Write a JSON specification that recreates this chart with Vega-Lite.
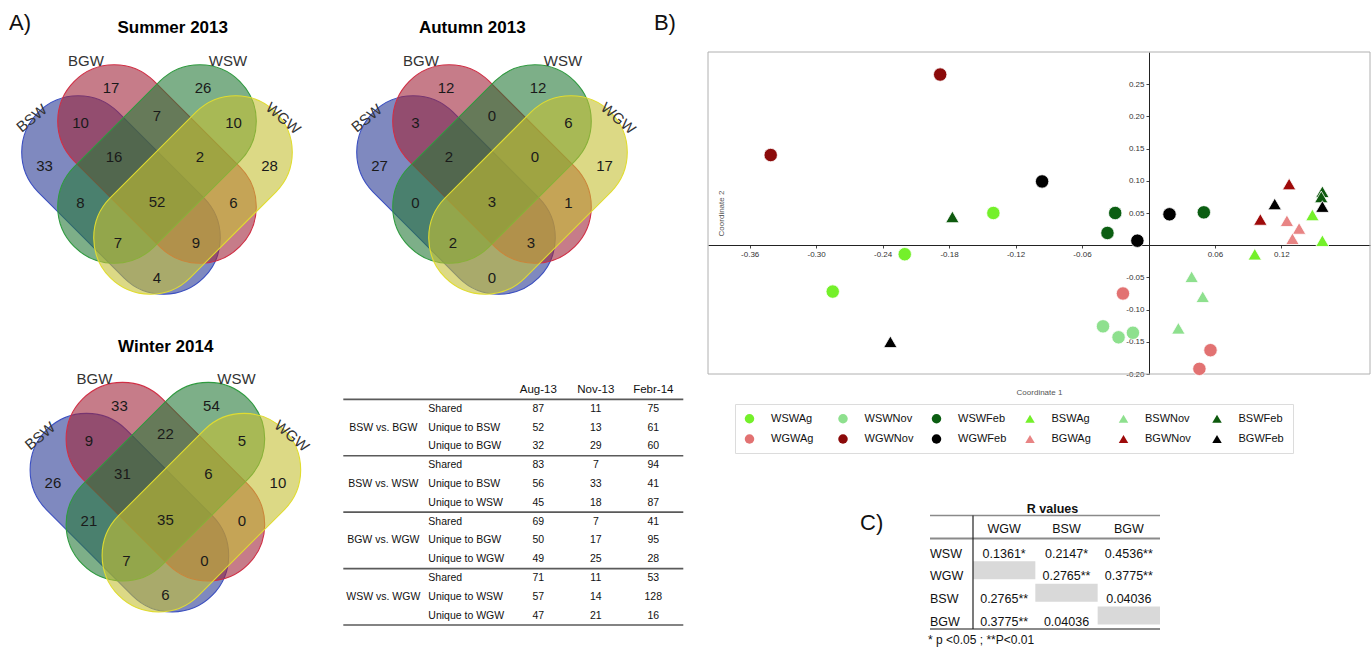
{
"$schema": "https://vega.github.io/schema/vega-lite/v6.json",
"width": 1371, "height": 647, "autosize": "none", "padding": 0, "background": "white",
"config": {"view": {"stroke": null}, "text": {"font": "Liberation Sans", "fontSize": 15, "fill": "#1a1a1a"}},
"datasets": {
 "venn": [
  {"panel":"Summer 2013","BSW only":33,"BGW only":17,"WSW only":26,"WGW only":28,"BSW+BGW":10,"BGW+WSW":7,"WSW+WGW":10,"BSW+BGW+WSW":16,"BGW+WSW+WGW":2,"BSW+WSW":8,"All four":52,"BGW+WGW":6,"BSW+WSW+WGW":7,"BSW+BGW+WGW":9,"BSW+WGW":4},
  {"panel":"Autumn 2013","BSW only":27,"BGW only":12,"WSW only":12,"WGW only":17,"BSW+BGW":3,"BGW+WSW":0,"WSW+WGW":6,"BSW+BGW+WSW":2,"BGW+WSW+WGW":0,"BSW+WSW":0,"All four":3,"BGW+WGW":1,"BSW+WSW+WGW":2,"BSW+BGW+WGW":3,"BSW+WGW":0},
  {"panel":"Winter 2014","BSW only":26,"BGW only":33,"WSW only":54,"WGW only":10,"BSW+BGW":9,"BGW+WSW":22,"WSW+WGW":5,"BSW+BGW+WSW":31,"BGW+WSW+WGW":6,"BSW+WSW":21,"All four":35,"BGW+WGW":0,"BSW+WSW+WGW":7,"BSW+BGW+WGW":0,"BSW+WGW":6}
 ],
 "sets": [{"set":"BSW"},{"set":"BGW"},{"set":"WSW"},{"set":"WGW"}],
 "overlap": [
  {"comparison":"BSW vs. BGW","subset":"Shared","label":"Shared","Aug-13":87,"Nov-13":11,"Febr-14":75},
  {"comparison":"BSW vs. BGW","subset":"Unique to 1st","label":"Unique to BSW","Aug-13":52,"Nov-13":13,"Febr-14":61},
  {"comparison":"BSW vs. BGW","subset":"Unique to 2nd","label":"Unique to BGW","Aug-13":32,"Nov-13":29,"Febr-14":60},
  {"comparison":"BSW vs. WSW","subset":"Shared","label":"Shared","Aug-13":83,"Nov-13":7,"Febr-14":94},
  {"comparison":"BSW vs. WSW","subset":"Unique to 1st","label":"Unique to BSW","Aug-13":56,"Nov-13":33,"Febr-14":41},
  {"comparison":"BSW vs. WSW","subset":"Unique to 2nd","label":"Unique to WSW","Aug-13":45,"Nov-13":18,"Febr-14":87},
  {"comparison":"BGW vs. WGW","subset":"Shared","label":"Shared","Aug-13":69,"Nov-13":7,"Febr-14":41},
  {"comparison":"BGW vs. WGW","subset":"Unique to 1st","label":"Unique to BGW","Aug-13":50,"Nov-13":17,"Febr-14":95},
  {"comparison":"BGW vs. WGW","subset":"Unique to 2nd","label":"Unique to WGW","Aug-13":49,"Nov-13":25,"Febr-14":28},
  {"comparison":"WSW vs. WGW","subset":"Shared","label":"Shared","Aug-13":71,"Nov-13":11,"Febr-14":53},
  {"comparison":"WSW vs. WGW","subset":"Unique to 1st","label":"Unique to WSW","Aug-13":57,"Nov-13":14,"Febr-14":128},
  {"comparison":"WSW vs. WGW","subset":"Unique to 2nd","label":"Unique to WGW","Aug-13":47,"Nov-13":21,"Febr-14":16}
 ],
 "scatter": [
  {"series":"WGWNov","coord1":-0.188,"coord2":0.265},
  {"series":"WGWNov","coord1":-0.341,"coord2":0.140},
  {"series":"WGWFeb","coord1":-0.096,"coord2":0.099},
  {"series":"WGWFeb","coord1":-0.010,"coord2":0.007},
  {"series":"WGWFeb","coord1":0.019,"coord2":0.048},
  {"series":"BSWFeb","coord1":-0.177,"coord2":0.044},
  {"series":"BSWFeb","coord1":0.157,"coord2":0.083},
  {"series":"BSWFeb","coord1":0.156,"coord2":0.075},
  {"series":"WSWAg","coord1":-0.140,"coord2":0.050},
  {"series":"WSWAg","coord1":-0.220,"coord2":-0.014},
  {"series":"WSWAg","coord1":-0.285,"coord2":-0.072},
  {"series":"BGWFeb","coord1":-0.233,"coord2":-0.150},
  {"series":"BGWFeb","coord1":0.114,"coord2":0.064},
  {"series":"BGWFeb","coord1":0.157,"coord2":0.060},
  {"series":"WSWFeb","coord1":-0.030,"coord2":0.050},
  {"series":"WSWFeb","coord1":-0.037,"coord2":0.019},
  {"series":"WSWFeb","coord1":0.050,"coord2":0.051},
  {"series":"BGWNov","coord1":0.127,"coord2":0.095},
  {"series":"BGWNov","coord1":0.101,"coord2":0.040},
  {"series":"BGWAg","coord1":0.125,"coord2":0.038},
  {"series":"BGWAg","coord1":0.136,"coord2":0.026},
  {"series":"BGWAg","coord1":0.130,"coord2":0.010},
  {"series":"BSWAg","coord1":0.148,"coord2":0.047},
  {"series":"BSWAg","coord1":0.157,"coord2":0.007},
  {"series":"BSWAg","coord1":0.096,"coord2":-0.014},
  {"series":"BSWNov","coord1":0.039,"coord2":-0.049},
  {"series":"BSWNov","coord1":0.049,"coord2":-0.080},
  {"series":"BSWNov","coord1":0.027,"coord2":-0.129},
  {"series":"WGWAg","coord1":-0.023,"coord2":-0.075},
  {"series":"WGWAg","coord1":0.056,"coord2":-0.163},
  {"series":"WGWAg","coord1":0.046,"coord2":-0.192},
  {"series":"WSWNov","coord1":-0.041,"coord2":-0.126},
  {"series":"WSWNov","coord1":-0.027,"coord2":-0.143},
  {"series":"WSWNov","coord1":-0.014,"coord2":-0.136}
 ],
 "rvalues": [
  {"row":"WSW","col":"WGW","R":"0.1361*"},{"row":"WSW","col":"BSW","R":"0.2147*"},{"row":"WSW","col":"BGW","R":"0.4536**"},
  {"row":"WGW","col":"WGW","R":null},{"row":"WGW","col":"BSW","R":"0.2765**"},{"row":"WGW","col":"BGW","R":"0.3775**"},
  {"row":"BSW","col":"WGW","R":"0.2765**"},{"row":"BSW","col":"BSW","R":null},{"row":"BSW","col":"BGW","R":"0.04036"},
  {"row":"BGW","col":"WGW","R":"0.3775**"},{"row":"BGW","col":"BSW","R":"0.04036"},{"row":"BGW","col":"BGW","R":null}
 ]
},
"resolve": {"scale": {"x": "independent", "y": "independent", "color": "independent", "shape": "independent", "fill": "independent", "stroke": "independent"}},
"layer": [
 {
  "data": {"name": "venn"},
  "transform": [{"filter": "datum.panel === 'Summer 2013'"}],
  "layer": [
   {"data": {"name": "sets"}, "mark": {"type": "point", "filled": true, "size": 4, "opacity": 1, "fillOpacity": 0.6, "strokeWidth": 1.1},
    "encoding": {
     "x": {"datum": 0, "type": "quantitative", "scale": {"domain": [-1, 1], "range": [57, 257], "nice": false, "zero": false}, "axis": null},
     "y": {"datum": 0, "type": "quantitative", "scale": {"domain": [-1, 1], "range": [64, 264], "nice": false, "zero": false}, "axis": null},
     "shape": {"field": "set", "type": "nominal", "scale": {"domain": ["BSW","BGW","WSW","WGW"], "range": ["M -39.18 -52.08 L 47.08 34.18 A 56.5 56.5 0 0 1 -32.82 114.08 L -119.08 27.82 A 56.5 56.5 0 0 1 -39.18 -52.08 Z","M -3.18 -83.08 L 83.08 3.18 A 56.5 56.5 0 0 1 3.18 83.08 L -83.08 -3.18 A 56.5 56.5 0 0 1 -3.18 -83.08 Z","M 3.18 -83.08 L -83.08 3.18 A 56.5 56.5 0 0 0 -3.18 83.08 L 83.08 -3.18 A 56.5 56.5 0 0 0 3.18 -83.08 Z","M 39.18 -52.08 L -47.08 34.18 A 56.5 56.5 0 0 0 32.82 114.08 L 119.08 27.82 A 56.5 56.5 0 0 0 39.18 -52.08 Z"]}, "legend": null},
     "fill": {"field": "set", "type": "nominal", "scale": {"domain": ["BSW","BGW","WSW","WGW"], "range": ["#2a3a95","#a0243a","#267a38","#c4c034"]}, "legend": null},
     "stroke": {"field": "set", "type": "nominal", "scale": {"domain": ["BSW","BGW","WSW","WGW"], "range": ["#3b4fc0","#d02f45","#2f9a3f","#e0dc30"]}, "legend": null}
    }},
   {"data": {"values": [{}]}, "mark": {"type": "text", "text": "A)", "fontSize": 22, "fill": "#111"}, "encoding": {"x": {"datum": -1.37, "axis": null}, "y": {"datum": -1.407, "axis": null}}},
   {"mark": {"type": "text", "fontSize": 17, "fontWeight": "bold", "fill": "#000"}, "encoding": {"x": {"datum": 0.157, "axis": null}, "y": {"datum": -1.357, "axis": null}, "text": {"field": "panel"}}},
   {"data": {"name": "sets"}, "transform": [{"filter": "datum.set === 'BSW'"}], "mark": {"type": "text", "angle": -40, "fill": "#333"}, "encoding": {"x": {"datum": -1.253, "axis": null}, "y": {"datum": -0.457, "axis": null}, "text": {"field": "set"}}},
   {"data": {"name": "sets"}, "transform": [{"filter": "datum.set === 'BGW'"}], "mark": {"type": "text", "fill": "#333"}, "encoding": {"x": {"datum": -0.71, "axis": null}, "y": {"datum": -1.03, "axis": null}, "text": {"field": "set"}}},
   {"data": {"name": "sets"}, "transform": [{"filter": "datum.set === 'WSW'"}], "mark": {"type": "text", "fill": "#333"}, "encoding": {"x": {"datum": 0.71, "axis": null}, "y": {"datum": -1.03, "axis": null}, "text": {"field": "set"}}},
   {"data": {"name": "sets"}, "transform": [{"filter": "datum.set === 'WGW'"}], "mark": {"type": "text", "angle": 40, "fill": "#333"}, "encoding": {"x": {"datum": 1.263, "axis": null}, "y": {"datum": -0.457, "axis": null}, "text": {"field": "set"}}},
   {"mark": "text", "encoding": {"x": {"datum": -1.125, "axis": null}, "y": {"datum": 0.015, "axis": null}, "text": {"field": "BSW only"}}},
   {"mark": "text", "encoding": {"x": {"datum": -0.46, "axis": null}, "y": {"datum": -0.76, "axis": null}, "text": {"field": "BGW only"}}},
   {"mark": "text", "encoding": {"x": {"datum": 0.46, "axis": null}, "y": {"datum": -0.76, "axis": null}, "text": {"field": "WSW only"}}},
   {"mark": "text", "encoding": {"x": {"datum": 1.125, "axis": null}, "y": {"datum": 0.015, "axis": null}, "text": {"field": "WGW only"}}},
   {"mark": "text", "encoding": {"x": {"datum": -0.765, "axis": null}, "y": {"datum": -0.41, "axis": null}, "text": {"field": "BSW+BGW"}}},
   {"mark": "text", "encoding": {"x": {"datum": 0, "axis": null}, "y": {"datum": -0.48, "axis": null}, "text": {"field": "BGW+WSW"}}},
   {"mark": "text", "encoding": {"x": {"datum": 0.765, "axis": null}, "y": {"datum": -0.41, "axis": null}, "text": {"field": "WSW+WGW"}}},
   {"mark": "text", "encoding": {"x": {"datum": -0.43, "axis": null}, "y": {"datum": -0.075, "axis": null}, "text": {"field": "BSW+BGW+WSW"}}},
   {"mark": "text", "encoding": {"x": {"datum": 0.43, "axis": null}, "y": {"datum": -0.075, "axis": null}, "text": {"field": "BGW+WSW+WGW"}}},
   {"mark": "text", "encoding": {"x": {"datum": -0.765, "axis": null}, "y": {"datum": 0.39, "axis": null}, "text": {"field": "BSW+WSW"}}},
   {"mark": "text", "encoding": {"x": {"datum": 0, "axis": null}, "y": {"datum": 0.38, "axis": null}, "text": {"field": "All four"}}},
   {"mark": "text", "encoding": {"x": {"datum": 0.765, "axis": null}, "y": {"datum": 0.39, "axis": null}, "text": {"field": "BGW+WGW"}}},
   {"mark": "text", "encoding": {"x": {"datum": -0.39, "axis": null}, "y": {"datum": 0.79, "axis": null}, "text": {"field": "BSW+WSW+WGW"}}},
   {"mark": "text", "encoding": {"x": {"datum": 0.39, "axis": null}, "y": {"datum": 0.79, "axis": null}, "text": {"field": "BSW+BGW+WGW"}}},
   {"mark": "text", "encoding": {"x": {"datum": 0, "axis": null}, "y": {"datum": 1.135, "axis": null}, "text": {"field": "BSW+WGW"}}}
  ]
 },
 {
  "data": {"name": "venn"},
  "transform": [{"filter": "datum.panel === 'Autumn 2013'"}],
  "layer": [
   {"data": {"name": "sets"}, "mark": {"type": "point", "filled": true, "size": 4, "opacity": 1, "fillOpacity": 0.6, "strokeWidth": 1.1},
    "encoding": {
     "x": {"datum": 0, "type": "quantitative", "scale": {"domain": [-1, 1], "range": [392, 592], "nice": false, "zero": false}, "axis": null},
     "y": {"datum": 0, "type": "quantitative", "scale": {"domain": [-1, 1], "range": [64, 264], "nice": false, "zero": false}, "axis": null},
     "shape": {"field": "set", "type": "nominal", "scale": {"domain": ["BSW","BGW","WSW","WGW"], "range": ["M -39.18 -52.08 L 47.08 34.18 A 56.5 56.5 0 0 1 -32.82 114.08 L -119.08 27.82 A 56.5 56.5 0 0 1 -39.18 -52.08 Z","M -3.18 -83.08 L 83.08 3.18 A 56.5 56.5 0 0 1 3.18 83.08 L -83.08 -3.18 A 56.5 56.5 0 0 1 -3.18 -83.08 Z","M 3.18 -83.08 L -83.08 3.18 A 56.5 56.5 0 0 0 -3.18 83.08 L 83.08 -3.18 A 56.5 56.5 0 0 0 3.18 -83.08 Z","M 39.18 -52.08 L -47.08 34.18 A 56.5 56.5 0 0 0 32.82 114.08 L 119.08 27.82 A 56.5 56.5 0 0 0 39.18 -52.08 Z"]}, "legend": null},
     "fill": {"field": "set", "type": "nominal", "scale": {"domain": ["BSW","BGW","WSW","WGW"], "range": ["#2a3a95","#a0243a","#267a38","#c4c034"]}, "legend": null},
     "stroke": {"field": "set", "type": "nominal", "scale": {"domain": ["BSW","BGW","WSW","WGW"], "range": ["#3b4fc0","#d02f45","#2f9a3f","#e0dc30"]}, "legend": null}
    }},
   {"mark": {"type": "text", "fontSize": 17, "fontWeight": "bold", "fill": "#000"}, "encoding": {"x": {"datum": -0.197, "axis": null}, "y": {"datum": -1.357, "axis": null}, "text": {"field": "panel"}}},
   {"data": {"name": "sets"}, "transform": [{"filter": "datum.set === 'BSW'"}], "mark": {"type": "text", "angle": -40, "fill": "#333"}, "encoding": {"x": {"datum": -1.253, "axis": null}, "y": {"datum": -0.457, "axis": null}, "text": {"field": "set"}}},
   {"data": {"name": "sets"}, "transform": [{"filter": "datum.set === 'BGW'"}], "mark": {"type": "text", "fill": "#333"}, "encoding": {"x": {"datum": -0.71, "axis": null}, "y": {"datum": -1.03, "axis": null}, "text": {"field": "set"}}},
   {"data": {"name": "sets"}, "transform": [{"filter": "datum.set === 'WSW'"}], "mark": {"type": "text", "fill": "#333"}, "encoding": {"x": {"datum": 0.71, "axis": null}, "y": {"datum": -1.03, "axis": null}, "text": {"field": "set"}}},
   {"data": {"name": "sets"}, "transform": [{"filter": "datum.set === 'WGW'"}], "mark": {"type": "text", "angle": 40, "fill": "#333"}, "encoding": {"x": {"datum": 1.263, "axis": null}, "y": {"datum": -0.457, "axis": null}, "text": {"field": "set"}}},
   {"mark": "text", "encoding": {"x": {"datum": -1.125, "axis": null}, "y": {"datum": 0.015, "axis": null}, "text": {"field": "BSW only"}}},
   {"mark": "text", "encoding": {"x": {"datum": -0.46, "axis": null}, "y": {"datum": -0.76, "axis": null}, "text": {"field": "BGW only"}}},
   {"mark": "text", "encoding": {"x": {"datum": 0.46, "axis": null}, "y": {"datum": -0.76, "axis": null}, "text": {"field": "WSW only"}}},
   {"mark": "text", "encoding": {"x": {"datum": 1.125, "axis": null}, "y": {"datum": 0.015, "axis": null}, "text": {"field": "WGW only"}}},
   {"mark": "text", "encoding": {"x": {"datum": -0.765, "axis": null}, "y": {"datum": -0.41, "axis": null}, "text": {"field": "BSW+BGW"}}},
   {"mark": "text", "encoding": {"x": {"datum": 0, "axis": null}, "y": {"datum": -0.48, "axis": null}, "text": {"field": "BGW+WSW"}}},
   {"mark": "text", "encoding": {"x": {"datum": 0.765, "axis": null}, "y": {"datum": -0.41, "axis": null}, "text": {"field": "WSW+WGW"}}},
   {"mark": "text", "encoding": {"x": {"datum": -0.43, "axis": null}, "y": {"datum": -0.075, "axis": null}, "text": {"field": "BSW+BGW+WSW"}}},
   {"mark": "text", "encoding": {"x": {"datum": 0.43, "axis": null}, "y": {"datum": -0.075, "axis": null}, "text": {"field": "BGW+WSW+WGW"}}},
   {"mark": "text", "encoding": {"x": {"datum": -0.765, "axis": null}, "y": {"datum": 0.39, "axis": null}, "text": {"field": "BSW+WSW"}}},
   {"mark": "text", "encoding": {"x": {"datum": 0, "axis": null}, "y": {"datum": 0.38, "axis": null}, "text": {"field": "All four"}}},
   {"mark": "text", "encoding": {"x": {"datum": 0.765, "axis": null}, "y": {"datum": 0.39, "axis": null}, "text": {"field": "BGW+WGW"}}},
   {"mark": "text", "encoding": {"x": {"datum": -0.39, "axis": null}, "y": {"datum": 0.79, "axis": null}, "text": {"field": "BSW+WSW+WGW"}}},
   {"mark": "text", "encoding": {"x": {"datum": 0.39, "axis": null}, "y": {"datum": 0.79, "axis": null}, "text": {"field": "BSW+BGW+WGW"}}},
   {"mark": "text", "encoding": {"x": {"datum": 0, "axis": null}, "y": {"datum": 1.135, "axis": null}, "text": {"field": "BSW+WGW"}}}
  ]
 },
 {
  "data": {"name": "venn"},
  "transform": [{"filter": "datum.panel === 'Winter 2014'"}],
  "layer": [
   {"data": {"name": "sets"}, "mark": {"type": "point", "filled": true, "size": 4, "opacity": 1, "fillOpacity": 0.6, "strokeWidth": 1.1},
    "encoding": {
     "x": {"datum": 0, "type": "quantitative", "scale": {"domain": [-1, 1], "range": [65.4, 265.4], "nice": false, "zero": false}, "axis": null},
     "y": {"datum": 0, "type": "quantitative", "scale": {"domain": [-1, 1], "range": [381.7, 581.7], "nice": false, "zero": false}, "axis": null},
     "shape": {"field": "set", "type": "nominal", "scale": {"domain": ["BSW","BGW","WSW","WGW"], "range": ["M -39.18 -52.08 L 47.08 34.18 A 56.5 56.5 0 0 1 -32.82 114.08 L -119.08 27.82 A 56.5 56.5 0 0 1 -39.18 -52.08 Z","M -3.18 -83.08 L 83.08 3.18 A 56.5 56.5 0 0 1 3.18 83.08 L -83.08 -3.18 A 56.5 56.5 0 0 1 -3.18 -83.08 Z","M 3.18 -83.08 L -83.08 3.18 A 56.5 56.5 0 0 0 -3.18 83.08 L 83.08 -3.18 A 56.5 56.5 0 0 0 3.18 -83.08 Z","M 39.18 -52.08 L -47.08 34.18 A 56.5 56.5 0 0 0 32.82 114.08 L 119.08 27.82 A 56.5 56.5 0 0 0 39.18 -52.08 Z"]}, "legend": null},
     "fill": {"field": "set", "type": "nominal", "scale": {"domain": ["BSW","BGW","WSW","WGW"], "range": ["#2a3a95","#a0243a","#267a38","#c4c034"]}, "legend": null},
     "stroke": {"field": "set", "type": "nominal", "scale": {"domain": ["BSW","BGW","WSW","WGW"], "range": ["#3b4fc0","#d02f45","#2f9a3f","#e0dc30"]}, "legend": null}
    }},
   {"mark": {"type": "text", "fontSize": 17, "fontWeight": "bold", "fill": "#000"}, "encoding": {"x": {"datum": 0.003, "axis": null}, "y": {"datum": -1.344, "axis": null}, "text": {"field": "panel"}}},
   {"data": {"name": "sets"}, "transform": [{"filter": "datum.set === 'BSW'"}], "mark": {"type": "text", "angle": -40, "fill": "#333"}, "encoding": {"x": {"datum": -1.253, "axis": null}, "y": {"datum": -0.457, "axis": null}, "text": {"field": "set"}}},
   {"data": {"name": "sets"}, "transform": [{"filter": "datum.set === 'BGW'"}], "mark": {"type": "text", "fill": "#333"}, "encoding": {"x": {"datum": -0.71, "axis": null}, "y": {"datum": -1.03, "axis": null}, "text": {"field": "set"}}},
   {"data": {"name": "sets"}, "transform": [{"filter": "datum.set === 'WSW'"}], "mark": {"type": "text", "fill": "#333"}, "encoding": {"x": {"datum": 0.71, "axis": null}, "y": {"datum": -1.03, "axis": null}, "text": {"field": "set"}}},
   {"data": {"name": "sets"}, "transform": [{"filter": "datum.set === 'WGW'"}], "mark": {"type": "text", "angle": 40, "fill": "#333"}, "encoding": {"x": {"datum": 1.263, "axis": null}, "y": {"datum": -0.457, "axis": null}, "text": {"field": "set"}}},
   {"mark": "text", "encoding": {"x": {"datum": -1.125, "axis": null}, "y": {"datum": 0.015, "axis": null}, "text": {"field": "BSW only"}}},
   {"mark": "text", "encoding": {"x": {"datum": -0.46, "axis": null}, "y": {"datum": -0.76, "axis": null}, "text": {"field": "BGW only"}}},
   {"mark": "text", "encoding": {"x": {"datum": 0.46, "axis": null}, "y": {"datum": -0.76, "axis": null}, "text": {"field": "WSW only"}}},
   {"mark": "text", "encoding": {"x": {"datum": 1.125, "axis": null}, "y": {"datum": 0.015, "axis": null}, "text": {"field": "WGW only"}}},
   {"mark": "text", "encoding": {"x": {"datum": -0.765, "axis": null}, "y": {"datum": -0.41, "axis": null}, "text": {"field": "BSW+BGW"}}},
   {"mark": "text", "encoding": {"x": {"datum": 0, "axis": null}, "y": {"datum": -0.48, "axis": null}, "text": {"field": "BGW+WSW"}}},
   {"mark": "text", "encoding": {"x": {"datum": 0.765, "axis": null}, "y": {"datum": -0.41, "axis": null}, "text": {"field": "WSW+WGW"}}},
   {"mark": "text", "encoding": {"x": {"datum": -0.43, "axis": null}, "y": {"datum": -0.075, "axis": null}, "text": {"field": "BSW+BGW+WSW"}}},
   {"mark": "text", "encoding": {"x": {"datum": 0.43, "axis": null}, "y": {"datum": -0.075, "axis": null}, "text": {"field": "BGW+WSW+WGW"}}},
   {"mark": "text", "encoding": {"x": {"datum": -0.765, "axis": null}, "y": {"datum": 0.39, "axis": null}, "text": {"field": "BSW+WSW"}}},
   {"mark": "text", "encoding": {"x": {"datum": 0, "axis": null}, "y": {"datum": 0.38, "axis": null}, "text": {"field": "All four"}}},
   {"mark": "text", "encoding": {"x": {"datum": 0.765, "axis": null}, "y": {"datum": 0.39, "axis": null}, "text": {"field": "BGW+WGW"}}},
   {"mark": "text", "encoding": {"x": {"datum": -0.39, "axis": null}, "y": {"datum": 0.79, "axis": null}, "text": {"field": "BSW+WSW+WGW"}}},
   {"mark": "text", "encoding": {"x": {"datum": 0.39, "axis": null}, "y": {"datum": 0.79, "axis": null}, "text": {"field": "BSW+BGW+WGW"}}},
   {"mark": "text", "encoding": {"x": {"datum": 0, "axis": null}, "y": {"datum": 1.135, "axis": null}, "text": {"field": "BSW+WGW"}}}
  ]
 },
 {
  "data": {"name": "overlap"},
  "layer": [
   {"transform": [{"fold": ["Aug-13","Nov-13","Febr-14"], "as": ["month","count"]}],
    "mark": {"type": "text", "fontSize": 10.5, "fill": "#111"},
    "encoding": {
     "x": {"field": "month", "type": "nominal", "scale": {"type": "point", "domain": ["Comparison","Subset","Aug-13","Nov-13","Febr-14"], "range": [423.3, 653.3], "padding": 0}, "axis": null},
     "y": {"field": "comparison", "type": "nominal", "scale": {"type": "band", "domain": ["BSW vs. BGW","BSW vs. WSW","BGW vs. WGW","WSW vs. WGW"], "range": [399.3, 625], "paddingInner": 0, "paddingOuter": 0}, "axis": null},
     "yOffset": {"field": "subset", "type": "nominal", "scale": {"type": "point", "domain": ["Shared","Unique to 1st","Unique to 2nd"], "padding": 0.5}},
     "text": {"field": "count", "type": "quantitative"}
    }},
   {"mark": {"type": "text", "align": "left", "xOffset": -52.5, "fontSize": 10.5, "fill": "#111"},
    "encoding": {"x": {"datum": "Subset", "axis": null}, "y": {"field": "comparison", "type": "nominal", "axis": null}, "yOffset": {"field": "subset", "type": "nominal"}, "text": {"field": "label"}}},
   {"transform": [{"filter": "datum.subset === 'Unique to 1st'"}],
    "mark": {"type": "text", "xOffset": -40, "fontSize": 10.5, "fill": "#111"},
    "encoding": {"x": {"datum": "Comparison", "axis": null}, "y": {"field": "comparison", "type": "nominal", "axis": null}, "yOffset": {"field": "subset", "type": "nominal"}, "text": {"field": "comparison"}}},
   {"transform": [{"filter": "datum.comparison === 'BSW vs. BGW' && datum.subset === 'Shared'"}, {"fold": ["Aug-13","Nov-13","Febr-14"], "as": ["month","count"]}],
    "mark": {"type": "text", "yOffset": -9.5, "fontSize": 11.5, "fill": "#111"},
    "encoding": {"x": {"field": "month", "type": "nominal", "axis": null}, "y": {"field": "comparison", "type": "nominal", "bandPosition": 0, "axis": null}, "text": {"field": "month"}}},
   {"transform": [{"filter": "datum.subset === 'Shared'"}],
    "mark": {"type": "rule", "stroke": "#5a5a5a", "strokeWidth": 1.6, "xOffset": -80, "x2Offset": 30},
    "encoding": {"x": {"datum": "Comparison", "axis": null}, "x2": {"datum": "Febr-14"}, "y": {"field": "comparison", "type": "nominal", "bandPosition": 1, "axis": null}}},
   {"transform": [{"filter": "datum.comparison === 'BSW vs. BGW' && datum.subset === 'Shared'"}],
    "mark": {"type": "rule", "stroke": "#5a5a5a", "strokeWidth": 1.8, "xOffset": -80, "x2Offset": 30},
    "encoding": {"x": {"datum": "Comparison", "axis": null}, "x2": {"datum": "Febr-14"}, "y": {"field": "comparison", "type": "nominal", "bandPosition": 0, "axis": null}}}
  ]
 },
 {
  "layer": [
   {"data": {"values": [{}]}, "mark": {"type": "rect", "fillOpacity": 0, "stroke": "#b0b0b0", "strokeWidth": 1},
    "encoding": {"x": {"datum": -0.3976, "type": "quantitative", "scale": {"domain": [-0.3976, 0.2], "range": [708, 1370], "nice": false, "zero": false}, "axis": null}, "x2": {"datum": 0.2},
                 "y": {"datum": -0.2, "type": "quantitative", "scale": {"domain": [-0.2, 0.3], "range": [374, 52], "nice": false, "zero": false}, "axis": null}, "y2": {"datum": 0.3}}},
   {"data": {"values": [{}]}, "mark": {"type": "text", "text": "B)", "fontSize": 22, "fill": "#111"}, "encoding": {"x": {"datum": -0.4365, "axis": null}, "y": {"datum": 0.3458, "axis": null}}}
  ]
 },
 {
  "data": {"name": "scatter"},
  "mark": {"type": "point", "filled": true, "size": 180, "opacity": 1, "stroke": "white", "strokeWidth": 0.8},
  "encoding": {
   "x": {"field": "coord1", "type": "quantitative", "scale": {"domain": [-0.3976, 0.2], "range": [708, 1370], "nice": false, "zero": false},
    "axis": {"orient": "bottom", "offset": -402, "values": [-0.36,-0.3,-0.24,-0.18,-0.12,-0.06,0.06,0.12], "format": ".2f", "labelExpr": "replace(datum.label, '\u2212', '-')", "labelFont": "Liberation Sans", "labelFontSize": 8, "labelColor": "#333", "labelFlush": false, "labelOverlap": false, "labelPadding": 2, "tickSize": 3, "tickColor": "#444", "domainColor": "#222", "grid": false, "title": "Coordinate 1", "titleFont": "Liberation Sans", "titleFontSize": 8, "titleFontWeight": "normal", "titleColor": "#555", "titlePadding": 130}},
   "y": {"field": "coord2", "type": "quantitative", "scale": {"domain": [-0.2, 0.3], "range": [374, 52], "nice": false, "zero": false},
    "axis": {"orient": "left", "offset": -1149, "values": [0.25,0.2,0.15,0.1,0.05,-0.05,-0.1,-0.15,-0.2], "format": ".2f", "labelExpr": "replace(datum.label, '\u2212', '-')", "labelFont": "Liberation Sans", "labelFontSize": 8, "labelColor": "#333", "labelFlush": false, "labelOverlap": false, "labelPadding": 2, "tickSize": 3, "tickColor": "#444", "domainColor": "#222", "grid": false, "title": "Coordinate 2", "titleFont": "Liberation Sans", "titleFontSize": 8, "titleFontWeight": "normal", "titleColor": "#555", "titlePadding": 400}},
   "color": {"field": "series", "type": "nominal",
    "scale": {"domain": ["WSWAg","WSWNov","WSWFeb","BSWAg","BSWNov","BSWFeb","WGWAg","WGWNov","WGWFeb","BGWAg","BGWNov","BGWFeb"], "range": ["#74f02a","#8ee08e","#0b5e12","#74f02a","#8ee08e","#0e5a0e","#e27272","#8b0a0a","#000000","#e88484","#9e0a0a","#000000"]},
    "legend": {"orient": "none", "legendX": 735, "legendY": 404, "direction": "horizontal", "columns": 6, "title": null, "labelFont": "Liberation Sans", "labelFontSize": 11, "labelColor": "#111", "symbolSize": 90, "symbolStrokeWidth": 0, "labelOffset": 16, "columnPadding": 17.5, "rowPadding": 8.5, "padding": 9, "strokeColor": "#dcdcdc", "fillColor": "white", "gridAlign": "all"}},
   "shape": {"field": "series", "type": "nominal",
    "scale": {"domain": ["WSWAg","WSWNov","WSWFeb","BSWAg","BSWNov","BSWFeb","WGWAg","WGWNov","WGWFeb","BGWAg","BGWNov","BGWFeb"], "range": ["circle","circle","circle","triangle-up","triangle-up","triangle-up","circle","circle","circle","triangle-up","triangle-up","triangle-up"]}}
  }
 },
 {
  "data": {"name": "rvalues"},
  "layer": [
   {"transform": [{"filter": "datum.row === datum.col"}], "mark": {"type": "rect", "fill": "#d9d9d9"},
    "encoding": {
     "x": {"field": "col", "type": "nominal", "scale": {"type": "band", "domain": ["WGW","BSW","BGW"], "range": [973, 1160], "paddingInner": 0, "paddingOuter": 0}, "axis": null},
     "y": {"field": "row", "type": "nominal", "scale": {"type": "band", "domain": ["WSW","WGW","BSW","BGW"], "range": [538.5, 629], "paddingInner": 0, "paddingOuter": 0}, "axis": null}}},
   {"transform": [{"filter": "datum.R != null"}], "mark": {"type": "text", "dy": 4, "fontSize": 12.5, "fill": "#111"},
    "encoding": {"x": {"field": "col", "type": "nominal", "axis": null}, "y": {"field": "row", "type": "nominal", "axis": null}, "text": {"field": "R"}}},
   {"transform": [{"filter": "datum.col === 'WGW'"}], "mark": {"type": "text", "align": "left", "xOffset": -43, "dy": 4, "fontSize": 12.5, "fill": "#111"},
    "encoding": {"x": {"field": "col", "type": "nominal", "bandPosition": 0, "axis": null}, "y": {"field": "row", "type": "nominal", "axis": null}, "text": {"field": "row"}}},
   {"transform": [{"filter": "datum.row === 'WSW'"}], "mark": {"type": "text", "yOffset": -10, "fontSize": 12.5, "fill": "#111"},
    "encoding": {"x": {"field": "col", "type": "nominal", "axis": null}, "y": {"field": "row", "type": "nominal", "bandPosition": 0, "axis": null}, "text": {"field": "col"}}},
   {"data": {"values": [{}]}, "mark": {"type": "rule", "stroke": "#8a8a8a", "strokeWidth": 1.5, "yOffset": -23, "xOffset": -43},
    "encoding": {"x": {"datum": "WGW", "bandPosition": 0, "axis": null}, "x2": {"datum": "BGW", "bandPosition": 1}, "y": {"datum": "WSW", "bandPosition": 0, "axis": null}}},
   {"data": {"values": [{}]}, "mark": {"type": "rule", "stroke": "#8a8a8a", "strokeWidth": 2.2, "xOffset": -43},
    "encoding": {"x": {"datum": "WGW", "bandPosition": 0, "axis": null}, "x2": {"datum": "BGW", "bandPosition": 1}, "y": {"datum": "WSW", "bandPosition": 0, "axis": null}}},
   {"data": {"values": [{}]}, "mark": {"type": "rule", "stroke": "#8a8a8a", "strokeWidth": 2.2, "xOffset": -43},
    "encoding": {"x": {"datum": "WGW", "bandPosition": 0, "axis": null}, "x2": {"datum": "BGW", "bandPosition": 1}, "y": {"datum": "BGW", "bandPosition": 1, "axis": null}}},
   {"data": {"values": [{}]}, "mark": {"type": "rule", "stroke": "#222", "strokeWidth": 1.2, "yOffset": -23},
    "encoding": {"x": {"datum": "WGW", "bandPosition": 0, "axis": null}, "y": {"datum": "WSW", "bandPosition": 0, "axis": null}, "y2": {"datum": "BGW", "bandPosition": 1}}},
   {"data": {"values": [{}]}, "mark": {"type": "text", "text": "R values", "fontWeight": "bold", "xOffset": -14, "yOffset": -30, "fontSize": 12.5, "fill": "#111"},
    "encoding": {"x": {"datum": "BSW", "axis": null}, "y": {"datum": "WSW", "bandPosition": 0, "axis": null}}},
   {"data": {"values": [{}]}, "mark": {"type": "text", "text": "* p <0.05 ;  **P<0.01", "align": "left", "xOffset": -45, "yOffset": 11, "fontSize": 12, "fill": "#111"},
    "encoding": {"x": {"datum": "WGW", "bandPosition": 0, "axis": null}, "y": {"datum": "BGW", "bandPosition": 1, "axis": null}}},
   {"data": {"values": [{}]}, "mark": {"type": "text", "text": "C)", "fontSize": 22, "fill": "#111", "xOffset": -101.3, "yOffset": -15.2},
    "encoding": {"x": {"datum": "WGW", "bandPosition": 0, "axis": null}, "y": {"datum": "WSW", "bandPosition": 0, "axis": null}}}
  ]
 }
]
}
